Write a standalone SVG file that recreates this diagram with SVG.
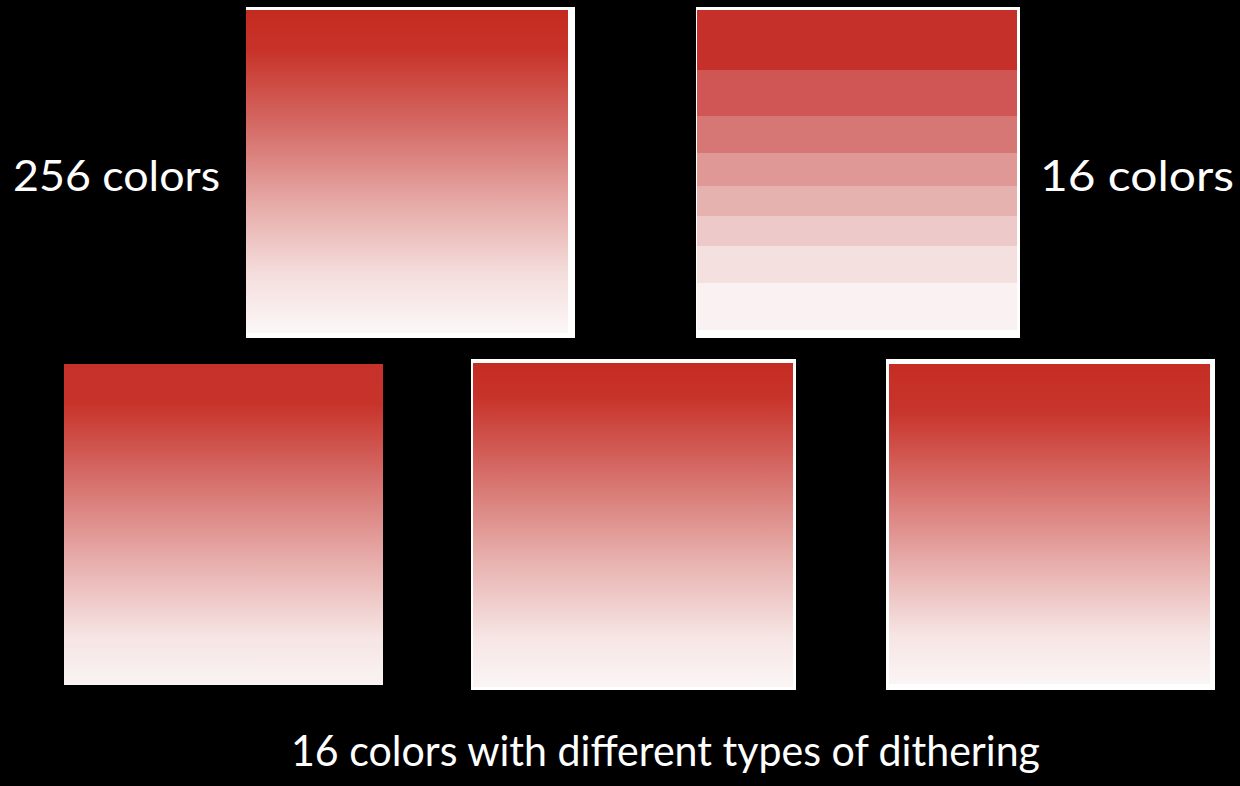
<svg xmlns="http://www.w3.org/2000/svg" width="1240" height="786" viewBox="0 0 1240 786">
<style>
.lbl{font-family:Lato,"Open Sans","Liberation Sans",sans-serif;font-size:43px;fill:#ffffff}
.frame{fill:#ffffff}
</style>
<defs>
<linearGradient id="g256" x1="0" y1="0" x2="0" y2="1">
<stop offset="0" stop-color="#C42B20"/>
<stop offset="0.12" stop-color="#C73228"/>
<stop offset="0.35" stop-color="#D46863"/>
<stop offset="0.6" stop-color="#E6AAA7"/>
<stop offset="0.82" stop-color="#F4DEDD"/>
<stop offset="1" stop-color="#FCF7F7"/>
</linearGradient>
<linearGradient id="gA" x1="0" y1="0" x2="0" y2="1">
<stop offset="0" stop-color="#C6312A"/>
<stop offset="0.12" stop-color="#C73229"/>
<stop offset="0.35" stop-color="#D56C68"/>
<stop offset="0.6" stop-color="#E6AAA8"/>
<stop offset="0.85" stop-color="#F6E5E4"/>
<stop offset="1" stop-color="#FAF3F3"/>
</linearGradient>
<linearGradient id="gB" x1="0" y1="0" x2="0" y2="1">
<stop offset="0" stop-color="#C52D23"/>
<stop offset="0.1" stop-color="#C73229"/>
<stop offset="0.35" stop-color="#D66F6A"/>
<stop offset="0.6" stop-color="#E7AFAC"/>
<stop offset="0.85" stop-color="#F6E6E5"/>
<stop offset="1" stop-color="#FBF5F5"/>
</linearGradient>
<linearGradient id="gC" x1="0" y1="0" x2="0" y2="1">
<stop offset="0" stop-color="#C52D23"/>
<stop offset="0.15" stop-color="#C8352C"/>
<stop offset="0.4" stop-color="#D8736F"/>
<stop offset="0.65" stop-color="#E9B4B2"/>
<stop offset="0.85" stop-color="#F6E5E4"/>
<stop offset="1" stop-color="#FBF5F5"/>
</linearGradient>
</defs>
<rect x="0" y="0" width="1240" height="786" fill="#000000"/>

<g id="text-256">
<text class="lbl" x="13" y="191" textLength="207" lengthAdjust="spacingAndGlyphs">256 colors</text>
</g>
<g id="box-256">
<rect class="frame" x="246" y="7" width="329" height="331"/>
<rect x="246" y="10" width="322" height="323" fill="url(#g256)"/>
</g>

<g id="box-16">
<rect class="frame" x="696" y="7" width="324" height="331"/>
<rect x="697" y="10" width="320" height="60" fill="#C5302A"/>
<rect x="697" y="70" width="320" height="46" fill="#CF5654"/>
<rect x="697" y="116" width="320" height="37" fill="#D77775"/>
<rect x="697" y="153" width="320" height="33" fill="#DF9896"/>
<rect x="697" y="186" width="320" height="30" fill="#E6B2B0"/>
<rect x="697" y="216" width="320" height="30" fill="#EDCAC9"/>
<rect x="697" y="246" width="320" height="37" fill="#F3E0DF"/>
<rect x="697" y="283" width="320" height="47" fill="#FAF2F2"/>
</g>
<g id="text-16">
<text class="lbl" x="1040" y="191" textLength="194" lengthAdjust="spacingAndGlyphs">16 colors</text>
</g>

<g id="box-dither-1">
<rect x="64" y="364" width="319" height="321" fill="url(#gA)"/>
</g>
<g id="box-dither-2">
<rect class="frame" x="471" y="359" width="325" height="331"/>
<rect x="473" y="363" width="320" height="324" fill="url(#gB)"/>
</g>
<g id="box-dither-3">
<rect class="frame" x="886" y="359" width="329" height="331"/>
<rect x="889" y="364" width="321" height="320" fill="url(#gC)"/>
</g>

<g id="text-caption">
<text class="lbl" x="291" y="766" textLength="749" lengthAdjust="spacingAndGlyphs">16 colors with different types of dithering</text>
</g>
</svg>
